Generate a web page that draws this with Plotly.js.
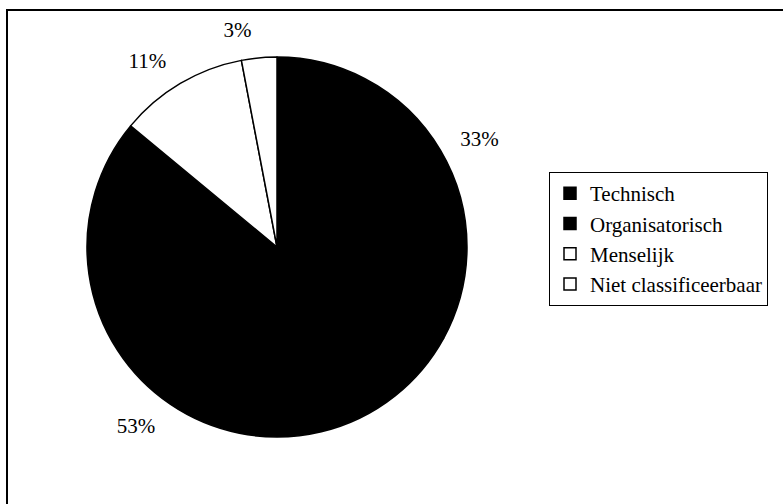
<!DOCTYPE html>
<html>
<head>
<meta charset="utf-8">
<script src="https://cdn.plot.ly/plotly-3.0.1.min.js"></script>
<style>html,body{margin:0;padding:0;background:#fff;}</style>
</head>
<body>
<div id="chart" style="width:783px;height:504px;"></div>
<script>
const categories = ["Technisch", "Organisatorisch", "Menselijk", "Niet classificeerbaar"];
const percentages = [33, 53, 11, 3];
const sliceColors = ["#000000", "#000000", "#ffffff", "#ffffff"];

const W = 783, H = 504;
const serif = "Liberation Serif";

// main pie: centre (277,247), radius 190 px
const cx = 277, cy = 247, r = 190;
// label carrier pie: same centre, slightly larger radius so outside labels sit further out
const rl = 206;

function domX(rad) { return [(cx - rad) / W, (cx + rad) / W]; }
function domY(rad) { return [1 - (cy + rad) / H, 1 - (cy - rad) / H]; }

const mainPie = {
  type: "pie",
  labels: categories,
  values: percentages,
  sort: false,
  direction: "clockwise",
  rotation: 0,
  marker: { colors: sliceColors, line: { color: "#000000", width: 1.5 } },
  textinfo: "none",
  hoverinfo: "label+percent",
  domain: { x: domX(r), y: domY(r) },
  showlegend: true
};

const labelPie = {
  type: "pie",
  labels: categories,
  values: percentages,
  sort: false,
  direction: "clockwise",
  rotation: 0,
  marker: { colors: ["rgba(0,0,0,0)", "rgba(0,0,0,0)", "rgba(0,0,0,0)", "rgba(0,0,0,0)"], line: { width: 0 } },
  texttemplate: "%{value}%",
  textposition: "outside",
  outsidetextfont: { family: serif, size: 21, color: "#000000" },
  hoverinfo: "skip",
  domain: { x: domX(rl), y: domY(rl) },
  showlegend: false
};

const layout = {
  width: W,
  height: H,
  margin: { l: 0, r: 0, t: 0, b: 0 },
  paper_bgcolor: "#ffffff",
  plot_bgcolor: "#ffffff",
  font: { family: serif, size: 21, color: "#000000" },
  showlegend: true,
  legend: {
    x: 549 / W,
    xanchor: "left",
    y: 1 - 172 / H,
    yanchor: "top",
    bordercolor: "#000000",
    borderwidth: 1,
    bgcolor: "#ffffff",
    traceorder: "normal",
    font: { family: serif, size: 21, color: "#000000" }
  },
  shapes: [
    {
      type: "rect", xref: "paper", yref: "paper",
      x0: 7 / W, x1: 1.05, y0: -0.05, y1: 1 - 10 / H,
      line: { color: "#000000", width: 2 }, fillcolor: "rgba(0,0,0,0)"
    }
  ]
};

Plotly.newPlot("chart", [mainPie, labelPie], layout, { displayModeBar: false, staticPlot: true });
</script>
</body>
</html>
